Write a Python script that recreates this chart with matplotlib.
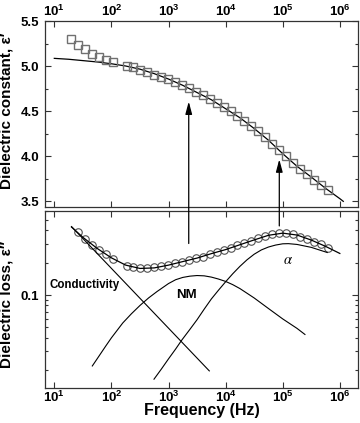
import matplotlib
matplotlib.use('Agg')
import matplotlib.pyplot as plt
from matplotlib.patches import ConnectionPatch
from matplotlib.ticker import FixedLocator, NullFormatter, FixedFormatter

plt.rcParams['font.family'] = ['Liberation Sans', 'DejaVu Sans']
plt.rcParams['font.weight'] = 'bold'
plt.rcParams['mathtext.fontset'] = 'custom'
plt.rcParams['mathtext.bf'] = 'Liberation Sans:bold'
plt.rcParams['mathtext.rm'] = 'Liberation Sans:bold'
plt.rcParams['mathtext.it'] = 'Liberation Sans:bold:italic'

# ---------------- data ----------------
freq_perm = [19.6, 25.9, 34.3, 45.4, 60.0, 79.4, 105, 184, 243, 321, 426, 562, 745, 984,
             1303, 1722, 2280, 3013, 3990, 5272, 6982, 9226, 12220, 16140, 21380, 28250,
             37410, 49430, 65460, 86500, 114600, 151400, 200400, 264900, 350800, 463400, 613800]
eps_perm = [5.30, 5.24, 5.19, 5.14, 5.10, 5.07, 5.05, 5.01, 4.99, 4.965, 4.94, 4.91, 4.885, 4.855,
            4.825, 4.79, 4.755, 4.715, 4.68, 4.64, 4.595, 4.55, 4.50, 4.45, 4.39, 4.34,
            4.28, 4.21, 4.14, 4.07, 4.00, 3.93, 3.86, 3.80, 3.74, 3.68, 3.63]

freq_loss = [25.9, 34.3, 45.4, 60.0, 79.4, 105, 184, 243, 321, 426, 562, 745, 984,
             1303, 1722, 2280, 3013, 3990, 5272, 6982, 9226, 12220, 16140, 21380, 28250,
             37410, 49430, 65460, 86500, 114600, 151400, 200400, 264900, 350800, 463400, 613800]
eps_loss = [0.385, 0.333, 0.295, 0.265, 0.240, 0.215, 0.188, 0.181, 0.179, 0.179, 0.181, 0.185, 0.191,
            0.197, 0.204, 0.212, 0.219, 0.228, 0.240, 0.252, 0.262, 0.275, 0.290, 0.305, 0.320,
            0.340, 0.358, 0.373, 0.380, 0.379, 0.368, 0.348, 0.332, 0.314, 0.296, 0.277]

fit_perm_f = [10, 17.8, 31.6, 56.2, 100, 178, 316, 562, 1000, 1778, 3162, 5623, 10000, 17780,
              31620, 56230, 100000, 177800, 316200, 562300, 1000000, 1150000]
fit_perm = [5.09, 5.08, 5.065, 5.05, 5.03, 5.005, 4.97, 4.92, 4.86, 4.79, 4.71, 4.63, 4.53, 4.43,
            4.31, 4.18, 4.03, 3.89, 3.77, 3.645, 3.53, 3.50]

fit_loss_f = [20, 31.6, 56.2, 100, 178, 316, 562, 1000, 1778, 3162, 5623, 10000, 17780,
              31620, 56230, 100000, 177800, 316200, 562300, 1000000]
fit_loss = [0.43, 0.345, 0.272, 0.222, 0.19, 0.177, 0.179, 0.19, 0.205, 0.221, 0.243, 0.265, 0.294,
            0.326, 0.360, 0.377, 0.362, 0.325, 0.284, 0.244]

cond_f = [20, 5180]
cond = [0.434, 0.0197]

nm_f = [46.3, 56.2, 79.4, 100, 158, 224, 316, 447, 631, 1000, 1334, 1778, 2371, 3162, 4217,
        5623, 7499, 10000, 13340, 17780, 23710, 31620, 56230, 100000, 177800, 245000]
nm = [0.0219, 0.0255, 0.0335, 0.040, 0.055, 0.067, 0.080, 0.094, 0.108, 0.128, 0.139, 0.146,
      0.150, 0.152, 0.151, 0.147, 0.141, 0.134, 0.125, 0.115, 0.104, 0.094, 0.075, 0.060,
      0.049, 0.043]

alpha_f = [557, 750, 1000, 1334, 1700, 2371, 3162, 4217, 5623, 7499, 10000, 13340, 17780,
           23710, 31620, 42170, 56230, 75000, 100000, 125900, 177800, 316200, 602600]
alpha = [0.0165, 0.0205, 0.0255, 0.0315, 0.038, 0.048, 0.059, 0.074, 0.092, 0.111, 0.133, 0.158,
         0.185, 0.213, 0.240, 0.263, 0.280, 0.292, 0.300, 0.301, 0.296, 0.278, 0.249]

arrow_f = [2260, 87100]
arrow_loss_start = [0.302, 0.44]
arrow_eps_end = [4.61, 3.967]

xticks = [1e1, 1e2, 1e3, 1e4, 1e5, 1e6]
xticklabels = [r'$\mathbf{10^{1}}$', r'$\mathbf{10^{2}}$', r'$\mathbf{10^{3}}$',
               r'$\mathbf{10^{4}}$', r'$\mathbf{10^{5}}$', r'$\mathbf{10^{6}}$']
ytop_major = [3.5, 4.0, 4.5, 5.0, 5.5]
ytop_labels = ['3.5', '4.0', '4.5', '5.0', '5.5']
ytop_minor = [3.75, 4.25, 4.75, 5.25]
ybot_major = [0.1]
ybot_labels = ['0.1']
ybot_minor = [0.02, 0.03, 0.04, 0.05, 0.06, 0.07, 0.08, 0.09, 0.2, 0.3, 0.4, 0.5, 0.6]

# ---------------- figure ----------------
fig = plt.figure(figsize=(3.6, 4.23), dpi=100)
ax1 = fig.add_axes([0.125, 0.5106, 0.8694, 0.4386])
ax2 = fig.add_axes([0.125, 0.0839, 0.8694, 0.4173])

xlim = (10 ** 0.837, 10 ** 6.318)
spine_col = '#333333'
for ax in (ax1, ax2):
    ax.set_xscale('log')
    ax.set_xlim(*xlim)
    ax.xaxis.set_major_locator(FixedLocator(xticks))
    ax.xaxis.set_major_formatter(FixedFormatter(xticklabels))
    ax.xaxis.set_minor_locator(FixedLocator([]))
    for s in ax.spines.values():
        s.set_color(spine_col)
        s.set_linewidth(0.9)
    ax.tick_params(which='both', direction='in', top=True, right=True, color=spine_col,
                   width=0.8, labelsize=9.5)
    ax.tick_params(which='major', length=4.5)
    ax.tick_params(which='minor', length=2.5)

# top panel
ax1.set_ylim(3.437, 5.5)
ax1.yaxis.set_major_locator(FixedLocator(ytop_major))
ax1.yaxis.set_major_formatter(FixedFormatter(ytop_labels))
ax1.yaxis.set_minor_locator(FixedLocator(ytop_minor))
ax1.tick_params(axis='x', labeltop=True, labelbottom=False, pad=2)
ax1.tick_params(axis='y', pad=4)
ax1.plot(fit_perm_f, fit_perm, color='black', lw=0.9, zorder=2)
ax1.plot(freq_perm, eps_perm, linestyle='none', marker='s', ms=5.2, mfc='none',
         mec='#707070', mew=1.0, zorder=3)
ax1.set_ylabel('Dielectric constant, ε′', fontsize=11, fontweight='bold')
ax1.yaxis.set_label_coords(-0.1, 0.52)

# bottom panel
ax2.set_yscale('log')
ax2.set_ylim(0.0138, 0.606)
ax2.yaxis.set_major_locator(FixedLocator(ybot_major))
ax2.yaxis.set_major_formatter(FixedFormatter(ybot_labels))
ax2.yaxis.set_minor_locator(FixedLocator(ybot_minor))
ax2.yaxis.set_minor_formatter(NullFormatter())
ax2.tick_params(axis='x', pad=1.5)
ax2.tick_params(axis='y', pad=4)
ax2.plot(fit_loss_f, fit_loss, color='black', lw=0.9, zorder=3)
ax2.plot(freq_loss, eps_loss, linestyle='none', marker='o', ms=5.4, mfc='none',
         mec='#505050', mew=0.8, zorder=2)
ax2.plot(cond_f, cond, color='black', lw=0.8)
ax2.plot(nm_f, nm, color='black', lw=0.8)
ax2.plot(alpha_f, alpha, color='black', lw=0.8)
ax2.set_ylabel('Dielectric loss, ε′′', fontsize=11, fontweight='bold')
ax2.yaxis.set_label_coords(-0.1, 0.47)
ax2.set_xlabel('Frequency (Hz)', fontsize=11.5, fontweight='bold', va='top')
ax2.xaxis.set_label_coords(0.5, -0.09)

ax2.text(8.4, 0.1243, 'Conductivity', fontsize=8.3, fontweight='bold', ha='left', va='center')
ax2.text(2040, 0.1, 'NM', fontsize=9.5, fontweight='bold', ha='center', va='center')
ax2.text(1.2e5, 0.212, 'α', fontsize=10.5, ha='center', va='center',
         family='STIXGeneral', style='italic', fontweight='normal')

for f, l0, e1 in zip(arrow_f, arrow_loss_start, arrow_eps_end):
    con = ConnectionPatch(xyA=(f, l0), coordsA=ax2.transData,
                          xyB=(f, e1), coordsB=ax1.transData,
                          arrowstyle='-|>,head_length=0.75,head_width=0.2',
                          color='black', lw=0.9, shrinkA=0, shrinkB=0, mutation_scale=10)
    fig.add_artist(con)

fig.savefig('out.png', dpi=100)
